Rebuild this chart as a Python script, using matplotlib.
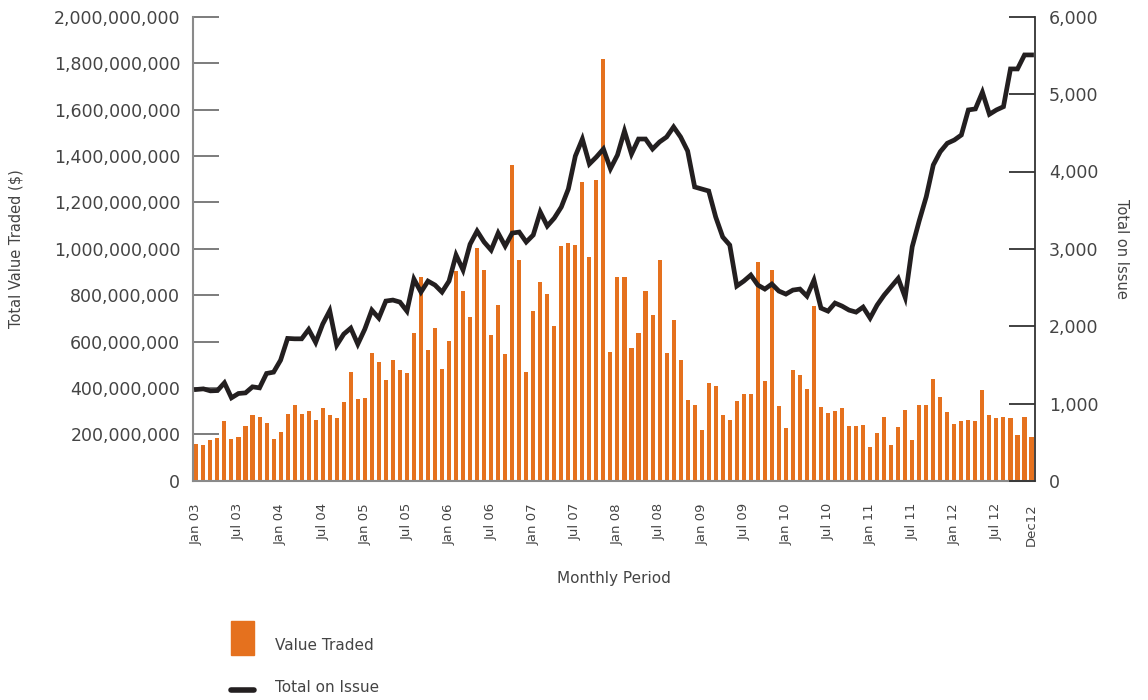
import matplotlib

matplotlib.use("Agg")

import matplotlib.pyplot as plt  # noqa: E402
from matplotlib.lines import Line2D  # noqa: E402
from matplotlib.patches import Rectangle  # noqa: E402

# ---------------------------------------------------------------------------
# Data: monthly, Jan 2003 .. Dec 2012 (120 months)
# ---------------------------------------------------------------------------
# value traded, millions of $
VALUE_TRADED_M = [
    159, 153, 175, 184, 257, 179, 188, 237, 284, 276, 248, 179,
    210, 289, 327, 289, 301, 263, 314, 284, 270, 339, 469, 352,
    356, 551, 512, 434, 521, 477, 464, 637, 879, 564, 659, 482,
    603, 905, 819, 706, 1004, 909, 628, 758, 546, 1363, 952, 469,
    732, 857, 806, 667, 1013, 1026, 1017, 1289, 965, 1298, 1816, 555,
    879, 879, 572, 637, 819, 715, 952, 551, 693, 521, 348, 326,
    218, 421, 408, 283, 261, 343, 374, 374, 944, 430, 909, 322,
    227, 477, 456, 395, 754, 318, 292, 300, 313, 235, 235, 240,
    145, 205, 274, 153, 232, 305, 175, 326, 326, 438, 361, 296,
    244, 257, 261, 257, 391, 283, 270, 274, 270, 197, 274, 188,
]

TOTAL_ON_ISSUE = [
    1182, 1190, 1164, 1168, 1268, 1074, 1130, 1138, 1216, 1203, 1389, 1406,
    1561, 1842, 1837, 1837, 1958, 1790, 2027, 2200, 1755, 1898, 1975, 1768,
    1962, 2208, 2105, 2325, 2338, 2312, 2195, 2609, 2441, 2583, 2532, 2441,
    2583, 2920, 2726, 3060, 3230, 3088, 2984, 3204, 3036, 3204, 3217, 3088,
    3179, 3476, 3295, 3398, 3541, 3774, 4200, 4420, 4097, 4188, 4291, 4036,
    4213, 4524, 4226, 4420, 4420, 4291, 4382, 4446, 4576, 4446, 4265, 3800,
    3774, 3748, 3411, 3153, 3049, 2519, 2583, 2661, 2532, 2480, 2545, 2454,
    2415, 2467, 2480, 2389, 2596, 2234, 2195, 2299, 2260, 2208, 2182, 2247,
    2105, 2273, 2402, 2510, 2618, 2372, 3027, 3364, 3674, 4084, 4256, 4365,
    4407, 4472, 4796, 4809, 5025, 4740, 4796, 4838, 5326, 5326, 5507, 5507,
]

TICK_LABELS = [
    "Jan 03", "Jul 03", "Jan 04", "Jul 04", "Jan 05", "Jul 05", "Jan 06",
    "Jul 06", "Jan 07", "Jul 07", "Jan 08", "Jul 08", "Jan 09", "Jul 09",
    "Jan 10", "Jul 10", "Jan 11", "Jul 11", "Jan 12", "Jul 12", "Dec12",
]

ORANGE = "#E5711E"
LINE_BLACK = "#231F20"
TEXT_GRAY = "#444444"
AXIS_GRAY = "#8A8A8A"

plt.rcParams["font.family"] = ["DejaVu Sans"]

fig = plt.figure(figsize=(11.48, 7.0), dpi=100)
ax = fig.add_axes([0.168, 0.313, 0.7336, 0.663])

x = list(range(len(VALUE_TRADED_M)))
ax.bar(x, [v * 1e6 for v in VALUE_TRADED_M], width=0.58, color=ORANGE, zorder=2)

ax.set_xlim(-0.5, 119.5)
ax.set_ylim(0, 2e9)
ax.set_yticks([i * 2e8 for i in range(11)])
ax.set_yticklabels([f"{int(i * 2e8):,}" for i in range(11)])
ax.tick_params(axis="y", direction="in", length=19, width=1.2, color="#666666",
               pad=9, labelsize=12.5, labelcolor=TEXT_GRAY)

tick_pos = list(range(0, 120, 6)) + [119]
ax.set_xticks(tick_pos)
ax.set_xticklabels(TICK_LABELS, rotation=90, fontsize=9.5, color=TEXT_GRAY)
ax.tick_params(axis="x", length=0, pad=16)

for side in ["top", "right"]:
    ax.spines[side].set_visible(False)
ax.spines["left"].set_color(AXIS_GRAY)
ax.spines["left"].set_linewidth(1.5)
ax.spines["bottom"].set_color(AXIS_GRAY)
ax.spines["bottom"].set_linewidth(1.5)

ax.set_ylabel("Total Value Traded ($)", fontsize=10.5, color=TEXT_GRAY, labelpad=22)
ax.set_xlabel("Monthly Period", fontsize=11, color=TEXT_GRAY, labelpad=18)

ax2 = ax.twinx()
ax2.plot(x, TOTAL_ON_ISSUE, color=LINE_BLACK, linewidth=3.4,
         solid_joinstyle="miter", zorder=3)
ax2.set_ylim(0, 6000)
ax2.set_yticks(range(0, 7000, 1000))
ax2.set_yticklabels([f"{v:,}" for v in range(0, 7000, 1000)])
ax2.tick_params(axis="y", direction="in", length=19, width=1.3, color="#333333",
                pad=10, labelsize=12.5, labelcolor=TEXT_GRAY)
for side in ["top", "left", "bottom"]:
    ax2.spines[side].set_visible(False)
ax2.spines["right"].set_color("#333333")
ax2.spines["right"].set_linewidth(1.3)
ax2.set_ylabel("Total on Issue", fontsize=10.5, color=TEXT_GRAY, rotation=270,
               labelpad=22)

# legend drawn by hand, stacked below the plot
fig.patches.append(Rectangle((231 / 1148, 1 - 655 / 700), 23 / 1148, 34 / 700,
                             transform=fig.transFigure, color=ORANGE))
fig.text(275 / 1148, 1 - 646 / 700, "Value Traded", fontsize=11,
         color=TEXT_GRAY, va="center")
fig.lines.append(Line2D([231 / 1148, 254 / 1148], [1 - 690 / 700, 1 - 690 / 700],
                        transform=fig.transFigure, color=LINE_BLACK,
                        linewidth=4, solid_capstyle="round"))
fig.text(275 / 1148, 1 - 688 / 700, "Total on Issue", fontsize=11,
         color=TEXT_GRAY, va="center")

fig.savefig("out.png", dpi=100)
